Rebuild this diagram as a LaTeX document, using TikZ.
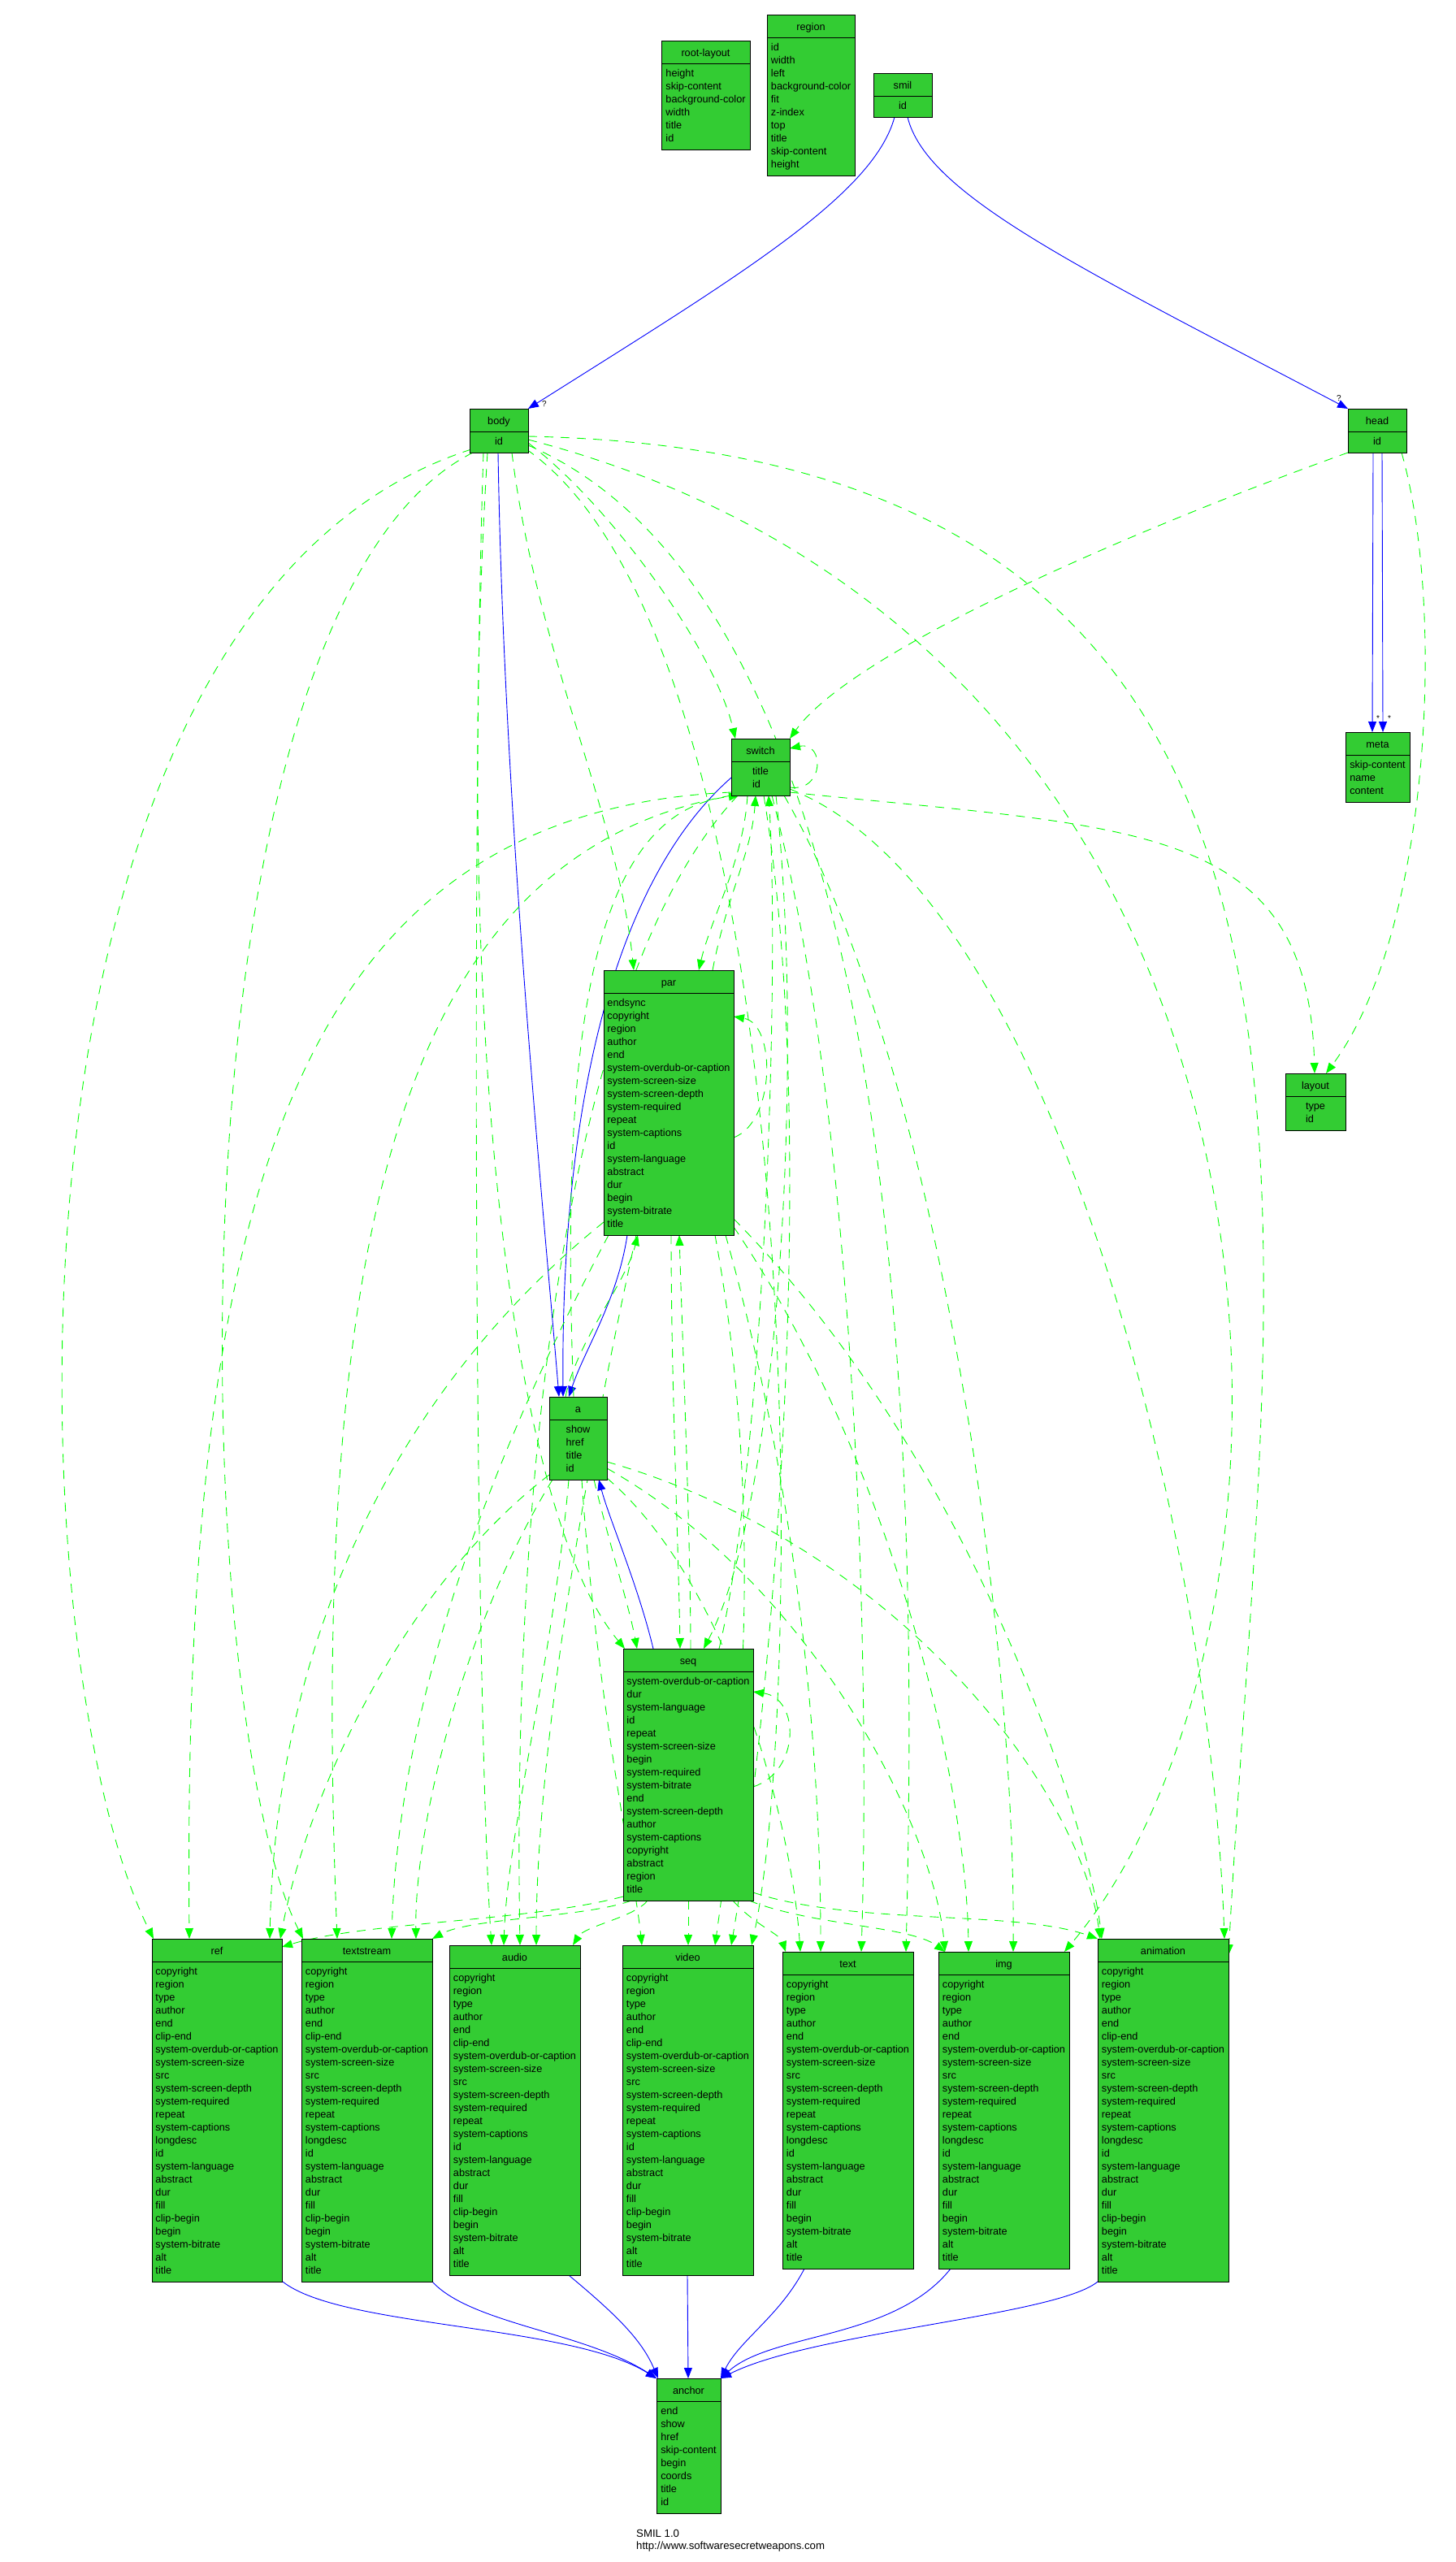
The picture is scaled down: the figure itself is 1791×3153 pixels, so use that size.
\documentclass[tikz,border=0pt]{standalone}
\usepackage{fontspec}
\setmainfont{Liberation Sans}
\usetikzlibrary{arrows.meta,calc}
\definecolor{nodegreen}{RGB}{51,204,51}
\definecolor{edgegreen}{RGB}{0,255,0}
\definecolor{edgeblue}{RGB}{0,0,255}
\pgfdeclarelayer{bg}
\pgfsetlayers{bg,main}
\newcommand{\nodefont}{\fontsize{12.7}{16}\selectfont}
\newcommand{\footfont}{\fontsize{13.2}{16}\selectfont}
\tikzset{
  classbox/.style={draw=black, fill=nodegreen, line width=1pt, inner sep=0pt, outer sep=0pt, rectangle},
  gedge/.style={draw=edgegreen, line width=0.9pt, dash pattern=on 11pt off 9pt, -{Triangle[length=13pt,width=10pt]}},
  bedge/.style={draw=edgeblue, line width=0.9pt, -{Triangle[length=13pt,width=10pt]}},
  mult/.style={font=\fontsize{10}{12}\selectfont, inner sep=0pt},
}
\newcommand{\umlbox}[7]{%
  \node[classbox, minimum width=#4pt, minimum height=#5pt, anchor=north west] (#1) at (#2,#3) {};
  \draw[line width=1pt] ([yshift=-28pt]#1.north west) -- ([yshift=-28pt]#1.north east);
  \node[anchor=base, inner sep=0pt, font=\nodefont] (#1-title) at ([yshift=-19pt]#1.north) {#6};
  \node[anchor=north, align=left, inner sep=0pt, font=\nodefont] (#1-attrs) at ([yshift=-32.8pt]#1.north) {\strut #7};
}
\begin{document}
\begin{tikzpicture}[x=1pt,y=-1pt]
\useasboundingbox (0,0) rectangle (1791,3153);

\umlbox{rootlayout}{814}{50}{109}{134}{root-layout}{height\\skip-content\\background-color\\width\\title\\id}
\umlbox{region}{944}{18}{108}{198}{region}{id\\width\\left\\background-color\\fit\\z-index\\top\\title\\skip-content\\height}
\umlbox{smil}{1075}{90}{72}{54}{smil}{id}
\umlbox{body}{578}{503}{72}{54}{body}{id}
\umlbox{head}{1659}{503}{72}{54}{head}{id}
\umlbox{switch}{900}{909}{72}{70}{switch}{title\\id}
\umlbox{meta}{1656}{901}{79}{86}{meta}{skip-content\\name\\content}
\umlbox{par}{743}{1194}{160}{326}{par}{endsync\\copyright\\region\\author\\end\\system-overdub-or-caption\\system-screen-size\\system-screen-depth\\system-required\\repeat\\system-captions\\id\\system-language\\abstract\\dur\\begin\\system-bitrate\\title}
\umlbox{layout}{1582}{1321}{74}{70}{layout}{type\\id}
\umlbox{a}{676}{1719}{71}{102}{a}{show\\href\\title\\id}
\umlbox{seq}{767}{2029}{160}{310}{seq}{system-overdub-or-caption\\dur\\system-language\\id\\repeat\\system-screen-size\\begin\\system-required\\system-bitrate\\end\\system-screen-depth\\author\\system-captions\\copyright\\abstract\\region\\title}
\umlbox{ref}{187}{2386}{160}{422}{ref}{copyright\\region\\type\\author\\end\\clip-end\\system-overdub-or-caption\\system-screen-size\\src\\system-screen-depth\\system-required\\repeat\\system-captions\\longdesc\\id\\system-language\\abstract\\dur\\fill\\clip-begin\\begin\\system-bitrate\\alt\\title}
\umlbox{textstream}{371}{2386}{161}{422}{textstream}{copyright\\region\\type\\author\\end\\clip-end\\system-overdub-or-caption\\system-screen-size\\src\\system-screen-depth\\system-required\\repeat\\system-captions\\longdesc\\id\\system-language\\abstract\\dur\\fill\\clip-begin\\begin\\system-bitrate\\alt\\title}
\umlbox{audio}{553}{2394}{161}{406}{audio}{copyright\\region\\type\\author\\end\\clip-end\\system-overdub-or-caption\\system-screen-size\\src\\system-screen-depth\\system-required\\repeat\\system-captions\\id\\system-language\\abstract\\dur\\fill\\clip-begin\\begin\\system-bitrate\\alt\\title}
\umlbox{video}{766}{2394}{161}{406}{video}{copyright\\region\\type\\author\\end\\clip-end\\system-overdub-or-caption\\system-screen-size\\src\\system-screen-depth\\system-required\\repeat\\system-captions\\id\\system-language\\abstract\\dur\\fill\\clip-begin\\begin\\system-bitrate\\alt\\title}
\umlbox{text}{963}{2402}{161}{390}{text}{copyright\\region\\type\\author\\end\\system-overdub-or-caption\\system-screen-size\\src\\system-screen-depth\\system-required\\repeat\\system-captions\\longdesc\\id\\system-language\\abstract\\dur\\fill\\begin\\system-bitrate\\alt\\title}
\umlbox{img}{1155}{2402}{161}{390}{img}{copyright\\region\\type\\author\\end\\system-overdub-or-caption\\system-screen-size\\src\\system-screen-depth\\system-required\\repeat\\system-captions\\longdesc\\id\\system-language\\abstract\\dur\\fill\\begin\\system-bitrate\\alt\\title}
\umlbox{animation}{1351}{2386}{161}{422}{animation}{copyright\\region\\type\\author\\end\\clip-end\\system-overdub-or-caption\\system-screen-size\\src\\system-screen-depth\\system-required\\repeat\\system-captions\\longdesc\\id\\system-language\\abstract\\dur\\fill\\clip-begin\\begin\\system-bitrate\\alt\\title}
\umlbox{anchor}{808}{2927}{79}{166}{anchor}{end\\show\\href\\skip-content\\begin\\coords\\title\\id}

\node[anchor=base west, inner sep=0pt, font=\footfont] (footA) at (783,3122) {SMIL 1.0};
\node[anchor=base west, inner sep=0pt, font=\footfont] (footB) at (783,3137.5) {http://www.softwaresecretweapons.com};

\node[mult] (qbody) at (670,497) {?};
\node[mult] (qhead) at (1648,490) {?};
\node[mult] (smeta1) at (1696,884) {*};
\node[mult] (smeta2) at (1710,884) {*};

\begin{pgfonlayer}{bg}
\fill[white] (0,0) rectangle (1791,3153);
% ---- blue edges
\draw[bedge] ($(smil.north west)+(26,54)$) .. controls (1075,241) and (905,342) .. ($(body.north west)+(72,0)$);
\draw[bedge] ($(smil.north west)+(42,54)$) .. controls (1140,240) and (1330,330) .. ($(head.north west)+(0,0)$);
\draw[bedge] ($(head.north west)+(31,54)$) -- ($(meta.north west)+(33,0)$);
\draw[bedge] ($(head.north west)+(42,54)$) -- ($(meta.north west)+(46,0)$);
\draw[bedge] ($(body.north west)+(35,54)$) .. controls (620,1000) and (670,1500) .. ($(a.north west)+(12,0)$);
\draw[bedge] ($(switch.north west)+(0,48)$) .. controls (760,1080) and (690,1350) .. ($(a.north west)+(17,0)$);
\draw[bedge] ($(par.north west)+(29,326)$) .. controls (760,1600) and (720,1660) .. ($(a.north west)+(24,0)$);
\draw[bedge] ($(seq.north west)+(37,0)$) .. controls (785,1950) and (750,1870) .. ($(a.north west)+(61,102)$);
\draw[bedge] ($(ref.north west)+(161,422)$) .. controls (420,2865) and (700,2860) .. ($(anchor.north west)+(0,0)$);
\draw[bedge] ($(textstream.north west)+(161,422)$) .. controls (580,2860) and (720,2870) .. ($(anchor.north west)+(0,0)$);
\draw[bedge] ($(audio.north west)+(147,406)$) .. controls (760,2850) and (790,2880) .. ($(anchor.north west)+(2,0)$);
\draw[bedge] ($(video.north west)+(80,406)$) -- ($(anchor.north west)+(39,0)$);
\draw[bedge] ($(text.north west)+(27,390)$) .. controls (960,2850) and (910,2880) .. ($(anchor.north west)+(79,0)$);
\draw[bedge] ($(img.north west)+(15,390)$) .. controls (1100,2880) and (950,2870) .. ($(anchor.north west)+(79,0)$);
\draw[bedge] ($(animation.north west)+(0,422)$) .. controls (1300,2850) and (1000,2870) .. ($(anchor.north west)+(79,0)$);
% ---- green edges from body
\draw[gedge] ($(body.north west)+(72,42)$) .. controls (750,620) and (880,800) .. ($(switch.north west)+(5,0)$);
\draw[gedge] ($(body.north west)+(52,54)$) .. controls (660,800) and (760,1000) .. ($(par.north west)+(37,0)$);
\draw[gedge] ($(body.north west)+(22,54)$) .. controls (560,1200) and (620,1850) .. ($(seq.north west)+(2,0)$);
\draw[gedge] ($(body.north west)+(2,50)$) .. controls (-30,750) and (20,2050) .. ($(ref.north west)+(2,0)$);
\draw[gedge] ($(body.north west)+(4,54)$) .. controls (200,750) and (230,2100) .. ($(textstream.north west)+(2,0)$);
\draw[gedge] ($(body.north west)+(17,54)$) .. controls (580,1000) and (585,2100) .. ($(audio.north west)+(52,0)$);
\draw[gedge] ($(body.north west)+(70,50)$) .. controls (1000,800) and (990,2100) .. ($(video.north west)+(159,0)$);
\draw[gedge] ($(body.north west)+(72,45)$) .. controls (1120,750) and (1130,1800) .. ($(text.north west)+(152,0)$);
\draw[gedge] ($(body.north west)+(72,38)$) .. controls (1650,800) and (1650,2000) .. ($(img.north west)+(155,0)$);
\draw[gedge] ($(body.north west)+(72,34)$) .. controls (1750,560) and (1560,1500) .. ($(animation.north west)+(161,20)$);
% ---- from head
\draw[gedge] ($(head.north west)+(0,54)$) .. controls (1400,650) and (1050,800) .. ($(switch.north west)+(72,0)$);
\draw[gedge] ($(head.north west)+(66,54)$) .. controls (1780,750) and (1760,1150) .. ($(layout.north west)+(50,0)$);
% ---- from switch
\draw[gedge] ($(switch.north west)+(72,60)$) .. controls (1015,975) and (1015,912) .. ($(switch.north west)+(72,12)$);
\draw[gedge] ($(switch.north west)+(20,70)$) .. controls (915,1060) and (875,1130) .. ($(par.north west)+(117,0)$);
\draw[gedge] ($(switch.north west)+(55,70)$) .. controls (990,1300) and (960,1850) .. ($(seq.north west)+(99,0)$);
\draw[gedge] ($(switch.north west)+(72,66)$) .. controls (1400,1020) and (1610,1010) .. ($(layout.north west)+(36,0)$);
\draw[gedge] ($(switch.north west)+(0,66)$) .. controls (350,1000) and (225,1500) .. ($(ref.north west)+(46,0)$);
\draw[gedge] ($(switch.north west)+(0,70)$) .. controls (500,1050) and (380,1500) .. ($(textstream.north west)+(44,0)$);
\draw[gedge] ($(switch.north west)+(8,70)$) .. controls (700,1200) and (630,1800) .. ($(audio.north west)+(87,0)$);
\draw[gedge] ($(switch.north west)+(40,70)$) .. controls (1010,1400) and (950,2100) .. ($(video.north west)+(134,0)$);
\draw[gedge] ($(switch.north west)+(50,70)$) .. controls (1060,1400) and (1070,2100) .. ($(text.north west)+(97,0)$);
\draw[gedge] ($(switch.north west)+(65,70)$) .. controls (1150,1300) and (1250,2000) .. ($(img.north west)+(92,0)$);
\draw[gedge] ($(switch.north west)+(72,62)$) .. controls (1300,1100) and (1490,1900) .. ($(animation.north west)+(156,0)$);
% ---- from par
\draw[gedge] ($(par.north west)+(160,206)$) .. controls (955,1380) and (955,1260) .. ($(par.north west)+(160,57)$);
\draw[gedge] ($(par.north west)+(83,326)$) .. controls (826,1700) and (835,1900) .. ($(seq.north west)+(70,0)$);
\draw[gedge] ($(par.north west)+(134,0)$) .. controls (895,1100) and (925,1050) .. ($(switch.north west)+(30,70)$);
\draw[gedge] ($(par.north west)+(0,310)$) .. controls (500,1700) and (340,2000) .. ($(ref.north west)+(145,0)$);
\draw[gedge] ($(par.north west)+(6,326)$) .. controls (600,1800) and (490,2100) .. ($(textstream.north west)+(111,0)$);
\draw[gedge] ($(par.north west)+(40,326)$) .. controls (700,1900) and (660,2200) .. ($(audio.north west)+(107,0)$);
\draw[gedge] ($(par.north west)+(137,326)$) .. controls (950,1900) and (900,2250) .. ($(video.north west)+(114,0)$);
\draw[gedge] ($(par.north west)+(150,326)$) .. controls (1000,1900) and (1010,2250) .. ($(text.north west)+(47,0)$);
\draw[gedge] ($(par.north west)+(160,316)$) .. controls (1100,1800) and (1190,2200) .. ($(img.north west)+(37,0)$);
\draw[gedge] ($(par.north west)+(160,306)$) .. controls (1200,1800) and (1340,2250) .. ($(animation.north west)+(5,0)$);
% ---- from seq
\draw[gedge] ($(seq.north west)+(160,170)$) .. controls (985,2180) and (985,2090) .. ($(seq.north west)+(160,53)$);
\draw[gedge] ($(seq.north west)+(83,0)$) .. controls (850,1900) and (840,1650) .. ($(par.north west)+(93,326)$);
\draw[gedge] ($(seq.north west)+(118,0)$) .. controls (940,1800) and (960,1200) .. ($(switch.north west)+(46,70)$);
\draw[gedge] ($(seq.north west)+(0,305)$) .. controls (650,2365) and (450,2365) .. ($(ref.north west)+(160,10)$);
\draw[gedge] ($(seq.north west)+(10,310)$) .. controls (720,2360) and (580,2360) .. ($(textstream.north west)+(161,0)$);
\draw[gedge] ($(seq.north west)+(30,310)$) .. controls (780,2360) and (720,2370) .. ($(audio.north west)+(152,0)$);
\draw[gedge] ($(seq.north west)+(80,310)$) -- ($(video.north west)+(81,0)$);
\draw[gedge] ($(seq.north west)+(135,310)$) .. controls (930,2370) and (960,2380) .. ($(text.north west)+(4,0)$);
\draw[gedge] ($(seq.north west)+(155,310)$) .. controls (1000,2370) and (1120,2370) .. ($(img.north west)+(8,0)$);
\draw[gedge] ($(seq.north west)+(160,300)$) .. controls (1050,2370) and (1250,2350) .. ($(animation.north west)+(0,0)$);
% ---- from a
\draw[gedge] ($(a.north west)+(20,0)$) .. controls (710,1650) and (770,1580) .. ($(par.north west)+(42,326)$);
\draw[gedge] ($(a.north west)+(55,102)$) .. controls (750,1900) and (775,1980) .. ($(seq.north west)+(17,0)$);
\draw[gedge] ($(a.north west)+(30,0)$) .. controls (690,1300) and (720,1000) .. ($(switch.north west)+(10,70)$);
\draw[gedge] ($(a.north west)+(0,96)$) .. controls (500,1950) and (380,2200) .. ($(ref.north west)+(158,0)$);
\draw[gedge] ($(a.north west)+(4,102)$) .. controls (570,2000) and (510,2250) .. ($(textstream.north west)+(141,0)$);
\draw[gedge] ($(a.north west)+(24,102)$) .. controls (680,2050) and (625,2250) .. ($(audio.north west)+(67,0)$);
\draw[gedge] ($(a.north west)+(40,102)$) .. controls (735,2100) and (780,2300) .. ($(video.north west)+(24,0)$);
\draw[gedge] ($(a.north west)+(71,100)$) .. controls (900,1950) and (975,2250) .. ($(text.north west)+(22,0)$);
\draw[gedge] ($(a.north west)+(71,88)$) .. controls (1000,1950) and (1150,2250) .. ($(img.north west)+(8,0)$);
\draw[gedge] ($(a.north west)+(71,80)$) .. controls (1100,1900) and (1330,2200) .. ($(animation.north west)+(3,0)$);
\end{pgfonlayer}
\end{tikzpicture}
\end{document}
